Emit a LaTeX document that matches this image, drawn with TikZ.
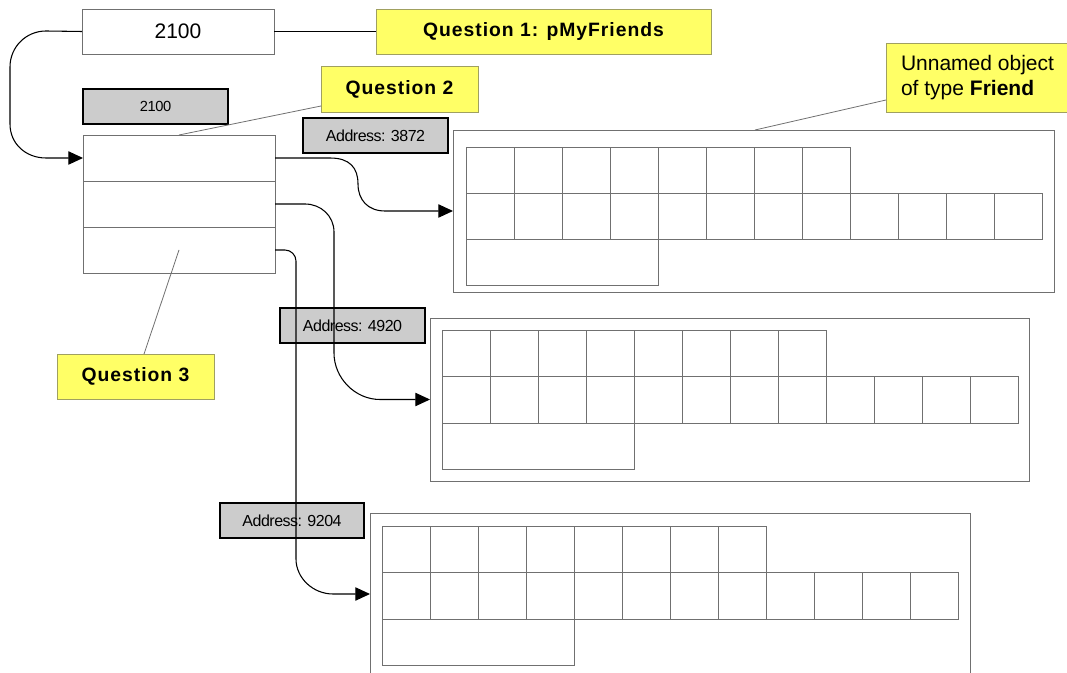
\documentclass[tikz,border=0pt]{standalone}
\usepackage{fontspec}
\setmainfont{Liberation Sans}
\usetikzlibrary{arrows.meta}
\definecolor{qyellow}{HTML}{FFFF66}
\definecolor{qborder}{HTML}{A0A060}
\definecolor{agray}{HTML}{CCCCCC}
\definecolor{lgray}{HTML}{707070}
\newcommand\memgrid[2]{%
  \foreach \i in {0,...,7} \draw[cellline] ({#1+48*\i},#2) rectangle ++(48,46.3);
  \foreach \i in {0,...,11} \draw[cellline] ({#1+48*\i},{#2+46.3}) rectangle ++(48,46.3);
  \draw[cellline] (#1,{#2+92.6}) rectangle ++(192,46.3);
}
\tikzset{
  rect/.style args={#1/#2/#3/#4}{at={({(#1+#3)/2},{(#2+#4)/2})},
    minimum width={(#3-#1)*0.75pt}, minimum height={(#4-#2)*0.75pt},
    inner sep=0pt, outer sep=0pt},
  valbox/.style={draw=lgray, fill=white, line width=0.7pt, font=\fontsize{15.75}{18}\selectfont},
  rowbox/.style={draw=lgray, fill=white, line width=0.7pt},
  qbox/.style={draw=qborder, fill=qyellow, line width=0.7pt,
    font=\fontsize{14.5}{17}\selectfont\bfseries\addfontfeature{LetterSpace=5}},
  addr/.style={draw=black, fill=agray, line width=1.5pt,
    font=\fontsize{12}{14}\selectfont\addfontfeature{LetterSpace=-3}},
  framebox/.style={draw=lgray, line width=0.65pt},
  cellline/.style={draw=lgray, line width=0.6pt},
  conn/.style={draw=black, line width=0.8pt},
  arr/.style={conn, -{Triangle[length=11pt,width=10pt]}},
  leader/.style={draw=lgray, line width=0.6pt},
}
\begin{document}
\begin{tikzpicture}[x=0.75pt, y=-0.75pt]
\useasboundingbox (0,0) rectangle (1067,673);

% frames and grids
\node[framebox, rect=453/130/1054/292] (f1) {};
\memgrid{466}{147}
\node[framebox, rect=430/318/1029/481] (f2) {};
\memgrid{442}{330.5}
\draw[framebox] (370,680) -- (370,513) -- (970,513) -- (970,680);
\coordinate (f3in) at (370,594);
\memgrid{382}{526.5}

% value boxes
\node[valbox, rect=82/9/274/54] (v) {2100};
\node[addr, rect=83/89/228/124] (a0) {\fontsize{11}{13}\selectfont 2100};
\node[rowbox, rect=83/135/275/181] (s1) {};
\node[rowbox, rect=83/181/275/227] (s2) {};
\node[rowbox, rect=83/227/275/273] (s3) {};

% address boxes
\node[addr, rect=303/118/448/153] (a1) {Address: 3872};
\node[addr, rect=280/308/425/343] (a2) {Address: 4920};
\node[addr, rect=220/503/364/538] (a3) {Address: 9204};

% question boxes
\node[qbox, rect=376/9/711/54] (q1) {Question 1: pMyFriends};
\node[qbox, rect=321/66/478/112] (q2) {Question 2};
\node[qbox, rect=57/354/214/399] (q3) {Question 3};
\node[qbox, rect=886/43/1069/112, align=left,
  font=\fontsize{15.75}{18.75}\selectfont] (un) {Unnamed object\\of type \textbf{Friend}};

% leader lines
\coordinate (q2a) at (321,106);
\coordinate (q3a) at (144,354);
\coordinate (una) at (886,100);
\coordinate (f1a) at (755,130);
\draw[conn] (v.east) -- (q1.west);
\draw[leader] (q2a) -- (s1.north);
\draw[leader] (q3a) -- (s3.center);
\draw[leader] (una) -- (f1a);

% pointer connectors
\draw[arr] (v.west) -- (46,31) .. controls (26,31) and (10,47) .. (10,67)
  -- (10,124) .. controls (10,144) and (26,158) .. (46,158) -- (s1.west);
\draw[arr] (s1.east) -- (330,158) .. controls (350,158) and (358,168) .. (358,184)
  .. controls (358,200) and (368,211) .. (385,211) -- (f1.west);
\draw[arr] (s2.east) -- (305,204) .. controls (321,204) and (334,216) .. (334,232)
  -- (334,353) .. controls (334,378) and (355,399.5) .. (380,399.5) -- (f2.west);
\draw[arr] (s3.east) -- (285,250) .. controls (291,250) and (296,255) .. (296,261)
  -- (296,559) .. controls (296,578) and (313,594) .. (333,594) -- (f3in);
\end{tikzpicture}
\end{document}
